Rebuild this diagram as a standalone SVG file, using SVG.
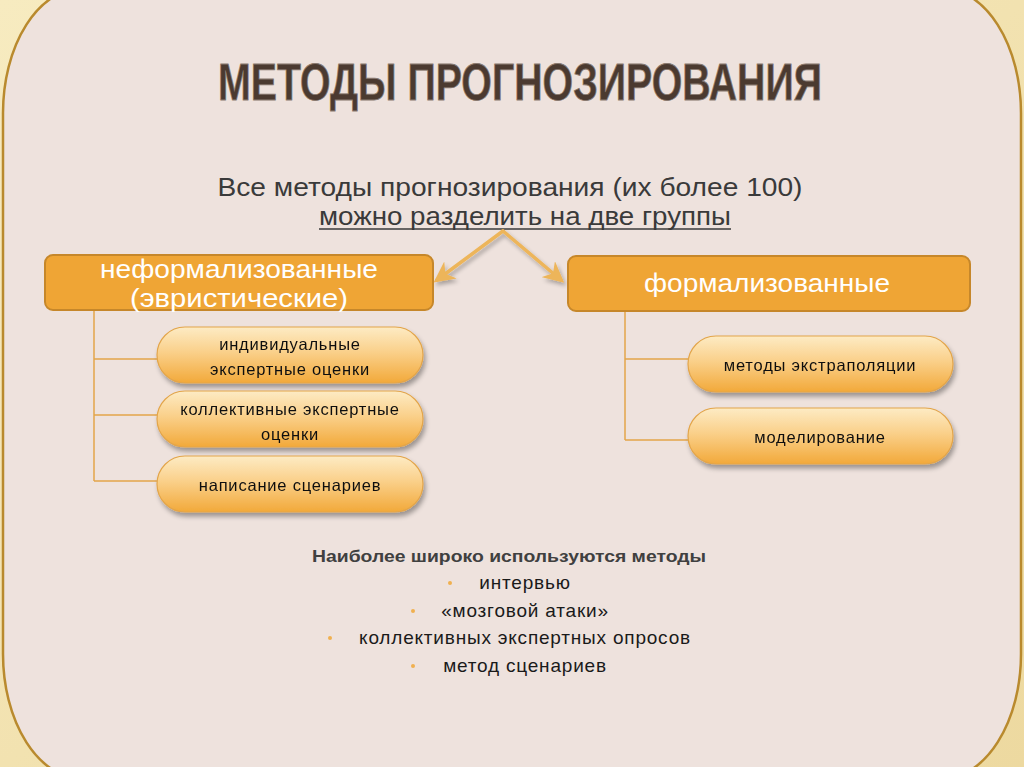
<svg xmlns="http://www.w3.org/2000/svg" width="1024" height="767" viewBox="0 0 1024 767">
<defs>
<linearGradient id="bgOut" x1="0" y1="0" x2="1" y2="1">
<stop offset="0" stop-color="#F7EBC0"/>
<stop offset="1" stop-color="#EDD9A0"/>
</linearGradient>
<linearGradient id="pill" x1="0" y1="0" x2="0" y2="1">
<stop offset="0" stop-color="#FDEBC4"/>
<stop offset="0.45" stop-color="#FAD08A"/>
<stop offset="1" stop-color="#F2A93A"/>
</linearGradient>
<filter id="sh" x="-10%" y="-20%" width="125%" height="160%">
<feGaussianBlur in="SourceAlpha" stdDeviation="2.5"/>
<feOffset dx="2" dy="4" result="b"/>
<feComponentTransfer><feFuncA type="linear" slope="0.35"/></feComponentTransfer>
<feMerge><feMergeNode/><feMergeNode in="SourceGraphic"/></feMerge>
</filter>
<filter id="ash" x="-20%" y="-20%" width="140%" height="160%">
<feGaussianBlur in="SourceAlpha" stdDeviation="2"/>
<feOffset dx="2" dy="3"/>
<feComponentTransfer><feFuncA type="linear" slope="0.3"/></feComponentTransfer>
<feMerge><feMergeNode/><feMergeNode in="SourceGraphic"/></feMerge>
</filter>
<marker id="ah" viewBox="0 0 10 10" refX="8" refY="5" markerWidth="6" markerHeight="6" orient="auto" markerUnits="strokeWidth">
<path d="M0,0 L10,5 L0,10 L3,5 Z" fill="#EDB55A"/>
</marker>
<style>
.box{fill:#EFA535;stroke:#C6872A;stroke-width:2}
.boxt{font-family:"Liberation Sans Narrow","Liberation Sans",sans-serif;font-size:25px;fill:#FFFFFF;text-anchor:middle}
.pl{fill:url(#pill);stroke:#E3A54A;stroke-width:1.2}
.pt{font-family:"Liberation Sans",Arial,sans-serif;font-size:16.5px;fill:#111111;text-anchor:middle;letter-spacing:0.8px}
.ln{stroke:#E3A54A;stroke-width:1.5;fill:none}
.ar{stroke:#EDB55A;stroke-width:3.5;fill:none;stroke-linecap:round}
.bt{font-family:"Liberation Sans",Arial,sans-serif;font-size:19px;fill:#1a1a1a;text-anchor:middle;letter-spacing:0.8px}
.dot{fill:#F0B050}
</style>
</defs>
<rect x="0" y="0" width="1024" height="767" fill="url(#bgOut)"/>
<rect x="3" y="-12" width="1018" height="791" rx="80" ry="125" fill="#EEE2DD" stroke="#B98A2E" stroke-width="2.5"/>

<g id="title">
<text x="520" y="100" text-anchor="middle" font-family="'Liberation Sans Narrow','Liberation Sans',sans-serif" font-weight="bold" font-size="52" fill="#4B3A30" stroke="#8A7A70" stroke-width="0.8" textLength="604" lengthAdjust="spacingAndGlyphs">МЕТОДЫ ПРОГНОЗИРОВАНИЯ</text>
</g>

<g id="subtitle" font-family="'Liberation Sans Narrow','Liberation Sans',sans-serif" font-size="25" fill="#3A3A3A" text-anchor="middle">
<text x="510" y="196" textLength="585" lengthAdjust="spacingAndGlyphs">Все методы прогнозирования (их более 100)</text>
<text x="525" y="225" textLength="412" lengthAdjust="spacingAndGlyphs">можно разделить на две группы</text>
<line x1="319" y1="229" x2="731" y2="229" stroke="#3A3A3A" stroke-width="1.5"/>
</g>

<g id="connectors">
<g filter="url(#ash)">
<line class="ar" x1="503" y1="231" x2="437" y2="280" marker-end="url(#ah)"/>
<line class="ar" x1="503" y1="231" x2="561" y2="280" marker-end="url(#ah)"/>
</g>
<path class="ln" d="M94,311 V481 M94,359 H157 M94,415 H157 M94,481 H157"/>
<path class="ln" d="M625,311 V440 M625,359 H688 M625,440 H688"/>
</g>

<g id="informal">
<rect class="box" x="45" y="255" width="388" height="55" rx="8"/>
<text class="boxt" x="239" y="278" textLength="278" lengthAdjust="spacingAndGlyphs">неформализованные</text>
<text class="boxt" x="239" y="307" textLength="218" lengthAdjust="spacingAndGlyphs">(эвристические)</text>
</g>

<g id="formal">
<rect class="box" x="568" y="256" width="402" height="55" rx="8"/>
<text class="boxt" x="767" y="292" textLength="246" lengthAdjust="spacingAndGlyphs">формализованные</text>
</g>

<g id="pill-individual" filter="url(#sh)">
<rect class="pl" x="157" y="327" width="266" height="56" rx="28"/>
<text class="pt" x="290" y="350">индивидуальные</text>
<text class="pt" x="290" y="375">экспертные оценки</text>
</g>
<g id="pill-collective" filter="url(#sh)">
<rect class="pl" x="157" y="391" width="266" height="56" rx="28"/>
<text class="pt" x="290" y="415">коллективные экспертные</text>
<text class="pt" x="290" y="440">оценки</text>
</g>
<g id="pill-scenarios" filter="url(#sh)">
<rect class="pl" x="157" y="456" width="266" height="56" rx="28"/>
<text class="pt" x="290" y="491">написание сценариев</text>
</g>
<g id="pill-extrapolation" filter="url(#sh)">
<rect class="pl" x="688" y="336" width="265" height="56" rx="28"/>
<text class="pt" x="820" y="371">методы экстраполяции</text>
</g>
<g id="pill-modeling" filter="url(#sh)">
<rect class="pl" x="688" y="408" width="265" height="56" rx="28"/>
<text class="pt" x="820" y="443">моделирование</text>
</g>

<g id="bottom">
<text x="509" y="562" text-anchor="middle" font-family="'Liberation Sans',Arial,sans-serif" font-weight="bold" font-size="17" fill="#404040" textLength="394" lengthAdjust="spacingAndGlyphs">Наиболее широко используются методы</text>
<circle class="dot" cx="450" cy="583" r="2"/>
<text class="bt" x="525" y="589">интервью</text>
<circle class="dot" cx="413" cy="611" r="2"/>
<text class="bt" x="525" y="617">«мозговой атаки»</text>
<circle class="dot" cx="330" cy="638" r="2"/>
<text class="bt" x="525" y="644">коллективных экспертных опросов</text>
<circle class="dot" cx="413" cy="666" r="2"/>
<text class="bt" x="525" y="672">метод сценариев</text>
</g>
</svg>
